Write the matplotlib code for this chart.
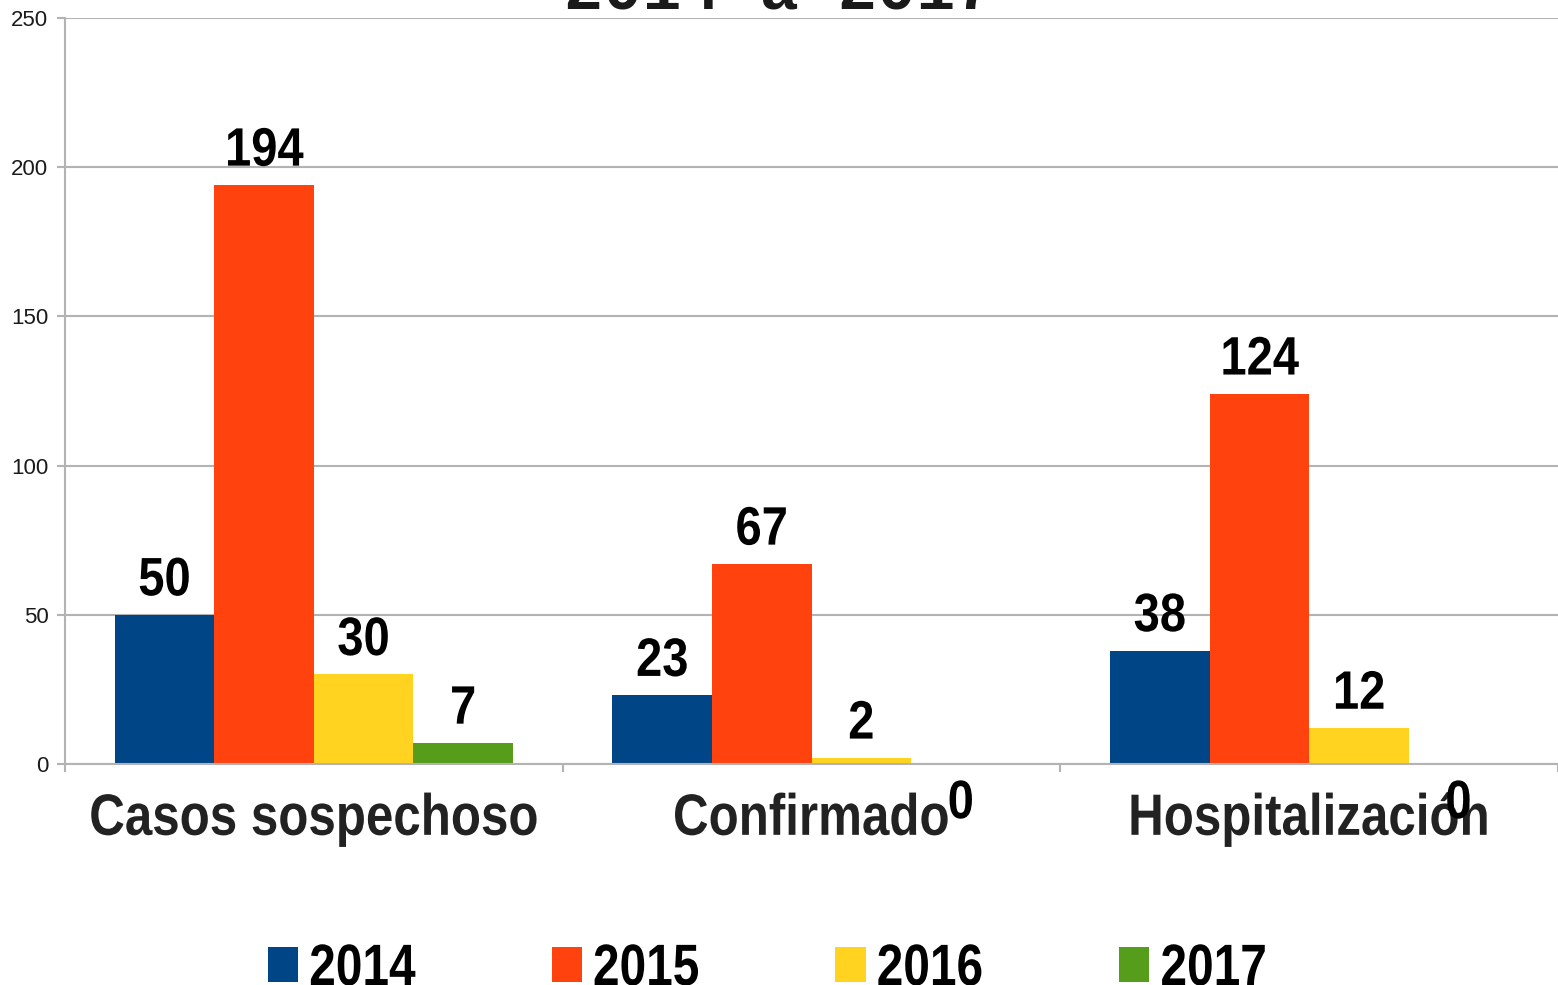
import matplotlib
matplotlib.use("Agg")
import matplotlib.pyplot as plt
import numpy as np
from matplotlib.patches import Patch
from matplotlib.patheffects import AbstractPathEffect
from matplotlib.transforms import Affine2D

categories = ["Casos sospechoso", "Confirmado", "Hospitalización"]
years = ["2014", "2015", "2016", "2017"]
v2014 = [50, 23, 38]
v2015 = [194, 67, 124]
v2016 = [30, 2, 12]
v2017 = [7, 0, 0]
series = [v2014, v2015, v2016, v2017]
colors = ["#004586", "#ff420e", "#ffd320", "#579d1c"]
yticks = [0, 50, 100, 150, 200, 250]
title = "2014 a 2017"

SANS = ["Liberation Sans", "DejaVu Sans"]


class Condense(AbstractPathEffect):
    """Horizontally condense text glyphs (emulates a 'Narrow' font)."""
    def __init__(self, sx=0.82, anchor="center"):
        super().__init__()
        self.sx = sx
        self.anchor = anchor

    def draw_path(self, renderer, gc, tpath, affine, rgbFace=None):
        if self.anchor == "left":
            cx = 0.0
        else:
            ext = tpath.get_extents()
            cx = (ext.x0 + ext.x1) / 2
        t = Affine2D().translate(-cx, 0).scale(self.sx, 1).translate(cx, 0)
        renderer.draw_path(gc, t.transform_path(tpath), affine, rgbFace)


fig = plt.figure(figsize=(15.58, 9.85), dpi=100)
ax = fig.add_axes([65/1558, 1-764/985, 1-65/1558, (764-18)/985])

x = np.arange(len(categories))
w = 0.2
for i, (vals, c) in enumerate(zip(series, colors)):
    pos = x - 0.3 + i*w
    ax.bar(pos, vals, width=w, color=c, zorder=3, linewidth=0)
    for p, v in zip(pos, vals):
        off = -39 if v == 0 else 14
        ax.annotate(str(v), (p, v), xytext=(0, off), textcoords="offset points",
                    ha="center", va="baseline", fontsize=39, fontweight="bold",
                    family=SANS, color="black", zorder=5, annotation_clip=False,
                    path_effects=[Condense(0.87)])

ax.set_xlim(-0.5, 2.5)
ax.set_ylim(0, 250)
ax.set_yticks(yticks)
ax.set_yticklabels([str(t) for t in yticks], family=SANS, fontsize=16, color="#1a1a1a")
ax.yaxis.grid(True, color="#b3b3b3", linewidth=1.5, zorder=0)
ax.set_xticks([-0.5, 0.5, 1.5, 2.5])
ax.set_xticklabels([])
ax.tick_params(axis="x", length=6, width=1.5, color="#b3b3b3")
ax.tick_params(axis="y", length=6, width=1.5, color="#b3b3b3", pad=6)
for xc, name in zip(x, categories):
    ax.annotate(name, (xc, 0), xycoords=("data", "axes fraction"),
                xytext=(0, -51), textcoords="offset points", ha="center",
                va="baseline", fontsize=42, fontweight="bold", family=SANS,
                color="#222222", annotation_clip=False, path_effects=[Condense(0.845)])
for s in ["top", "right"]:
    ax.spines[s].set_visible(False)
for s in ["left", "bottom"]:
    ax.spines[s].set_color("#b3b3b3")
    ax.spines[s].set_linewidth(1.5)
    ax.spines[s].set_zorder(4)

fig.text(0.5, 1-10/985, title, ha="center", va="baseline", fontsize=47,
         fontweight="bold", family=["Liberation Mono", "DejaVu Sans Mono"], color="#1a1a1a")

handles = [Patch(facecolor=c, edgecolor="none") for c in colors]
leg = fig.legend(handles, years, loc="center", bbox_to_anchor=(0.5, 1-970/985),
                 ncol=4, frameon=False, prop={"family": SANS, "weight": "bold", "size": 42},
                 handlelength=0.52, handleheight=0.55, handletextpad=0.19, columnspacing=1.93,
                 borderpad=0, borderaxespad=0)
for t in leg.get_texts():
    t.set_path_effects([Condense(anchor="left")])

fig.savefig("out.png", dpi=100)
